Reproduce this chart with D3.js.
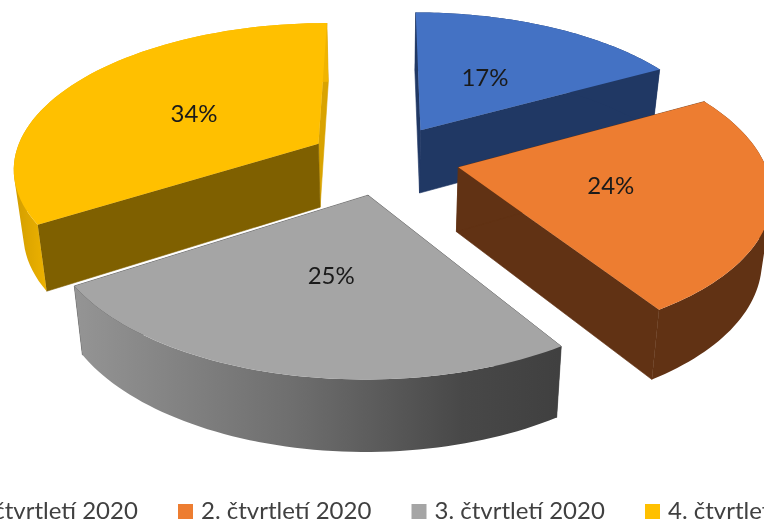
<!DOCTYPE html>
<html>
<head>
<meta charset="utf-8">
<script src="https://cdnjs.cloudflare.com/ajax/libs/d3/7.8.5/d3.min.js"></script>
<style>
html,body{margin:0;padding:0;background:#fff;overflow:hidden}
text{font-family:Lato,"Open Sans",sans-serif}
svg{filter:blur(0.4px)}
</style>
</head>
<body>
<svg id="chart" width="764" height="520"></svg>
<script>
var categories = ['1. čtvrtletí 2020','2. čtvrtletí 2020','3. čtvrtletí 2020','4. čtvrtletí 2020'];
var shares = [17,24,25,34];
var topColors = ['#4472c4','#ed7d31','#a5a5a5','#ffc000'];
var startCutColors = ['#203864','#613214','#404040','#7f6000'];
var endCutColors = ['#203864','#613214','#404040','#d9a300'];
var wallColors = ['#203864','#613214','url(#grayWall)','url(#yellowWall)'];

// perspective of the pie plane, fitted on the slice corners
var vanishX = 383, vanishY = -781.5, plane = 941;
var radiusX = 305, explodeX = 75, radiusP = 0.153, explodeP = 0.0374;
var sliceNudge = [[0.5,0],[2,-1],[2,0],[0,1]];
var labelNudge = [[-4,2],[-1,0],[2,-2],[0,2]];

var svg = d3.select('#chart');
var defs = svg.append('defs');

var grayGrad = defs.append('linearGradient').attr('id','grayWall')
	.attr('gradientUnits','userSpaceOnUse').attr('x1',77).attr('x2',559).attr('y1',0).attr('y2',0);
grayGrad.append('stop').attr('offset',0).attr('stop-color','#949494');
grayGrad.append('stop').attr('offset',0.45).attr('stop-color','#6e6e6e');
grayGrad.append('stop').attr('offset',0.8).attr('stop-color','#484848');
grayGrad.append('stop').attr('offset',1).attr('stop-color','#404040');

var yellowGrad = defs.append('linearGradient').attr('id','yellowWall')
	.attr('gradientUnits','userSpaceOnUse').attr('x1',15).attr('x2',50).attr('y1',0).attr('y2',0);
yellowGrad.append('stop').attr('offset',0).attr('stop-color','#d39e00');
yellowGrad.append('stop').attr('offset',1).attr('stop-color','#f0b400');

var pie = d3.pie().sort(null).value(function(d){return d;});
var slices = pie(shares);
var line = d3.line();

// point on the slice: f = fraction of radius, a = angle clockwise from top
function project(d,f,a,bottom){
	var mid = (d.startAngle+d.endAngle)/2;
	var x = explodeX*Math.sin(mid)+f*radiusX*Math.sin(a);
	var p = explodeP*Math.cos(mid)+f*radiusP*Math.cos(a);
	var s = 1/(1+p);
	var sx = vanishX+x*s;
	var sy = vanishY+plane*s;
	if(bottom){
		sx = sx-(sx-vanishX)*0.026;
		sy = sy+28+36*s;
	}
	return [sx+sliceNudge[d.index][0],sy+sliceNudge[d.index][1]];
}

function arcPoints(d,bottom){
	return d3.range(0,61).map(function(i){
		return project(d,1,d.startAngle+(d.endAngle-d.startAngle)*i/60,bottom);
	});
}

// the two arcs cross at the silhouette, so the wall is one path of strips
// that all wind the same way
function wallPath(d){
	var up = arcPoints(d,false), down = arcPoints(d,true);
	return d3.range(0,60).map(function(i){
		var quad = [up[i],up[i+1],down[i+1],down[i]];
		if(d3.polygonArea(quad)<0){quad.reverse();}
		return line(quad)+'Z';
	}).join('');
}

function cutPath(d,a){
	return line([project(d,0,a,false),project(d,1,a,false),project(d,1,a,true),project(d,0,a,true)])+'Z';
}

function topPath(d){
	return line([project(d,0,d.startAngle,false)].concat(arcPoints(d,false)))+'Z';
}

var drawOrder = [3,0,1,2];
var g = svg.append('g');
drawOrder.forEach(function(i){
	var d = slices[i];
	g.append('path').attr('d',cutPath(d,d.endAngle)).attr('fill',endCutColors[i]).attr('stroke',endCutColors[i]).attr('stroke-width',0.6);
	g.append('path').attr('d',cutPath(d,d.startAngle)).attr('fill',startCutColors[i]).attr('stroke',startCutColors[i]).attr('stroke-width',0.6);
	g.append('path').attr('d',wallPath(d)).attr('fill',wallColors[i]);
	g.append('path').attr('d',topPath(d)).attr('fill',topColors[i]);
});

var percent = d3.format('.0%');
var total = d3.sum(shares);
svg.append('g').selectAll('text').data(slices).enter().append('text')
	.attr('transform',function(d){
		var mid = (d.startAngle+d.endAngle)/2;
		var c = project(d,0.5,mid,false);
		return 'translate('+(c[0]+labelNudge[d.index][0])+','+(c[1]+labelNudge[d.index][1])+')';
	})
	.attr('text-anchor','middle').attr('dy','0.35em')
	.attr('font-size',24).attr('fill','#1a1a1a')
	.text(function(d){return percent(d.value/total);});

var legendX = d3.scaleLinear().domain([1,2]).range([178,411.5]);
var legend = svg.append('g').selectAll('g').data(categories).enter().append('g')
	.attr('transform',function(d,i){return 'translate('+legendX(i)+',504)';});
legend.append('rect').attr('width',15).attr('height',15)
	.attr('fill',function(d,i){return topColors[i];});
legend.append('text').attr('x',23).attr('y',15)
	.attr('font-size',24).attr('fill','#404040')
	.text(function(d){return d;});
</script>
</body>
</html>
